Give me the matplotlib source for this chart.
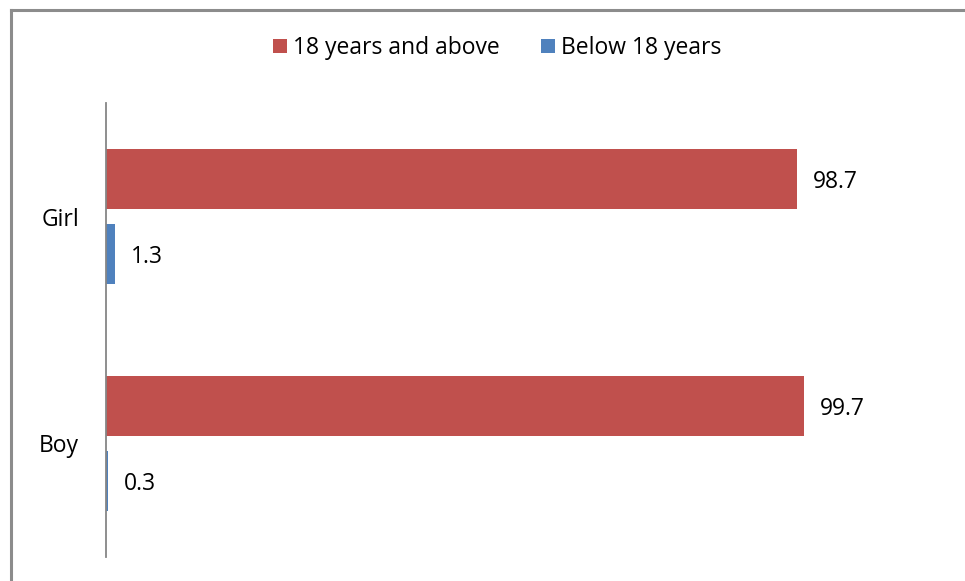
import matplotlib.pyplot as plt
from matplotlib.lines import Line2D

groups = ["Boy", "Girl"]
adult = [99.7, 98.7]
minor = [0.3, 1.3]
series_names = ["18 years and above", "Below 18 years"]

RED = "#C0504D"
BLUE = "#4F81BD"
FS = 16.5

plt.rcParams["font.family"] = ["Open Sans", "DejaVu Sans"]

fig = plt.figure(figsize=(9.65, 5.81), dpi=100)
W, H = 965, 581
ax = fig.add_axes([106 / W, 1 - 557 / H, 840 / W, 454 / H])

h = 0.265
off = 0.167
pos = list(range(len(groups)))
b1 = ax.barh([p + off for p in pos], adult, height=h, color=RED, label=series_names[0])
b2 = ax.barh([p - off for p in pos], minor, height=h, color=BLUE, label=series_names[1])

for bars, vals in ((b1, adult), (b2, minor)):
    for bar, v in zip(bars, vals):
        ax.text(v + 2.3, bar.get_y() + bar.get_height() / 2, f"{v}",
                va="center_baseline", ha="left", fontsize=FS)

ax.set_xlim(0, 120)
ax.set_ylim(-0.5, 1.5)
ax.set_yticks(pos)
ax.set_yticklabels(groups, fontsize=FS, va="center_baseline")
ax.tick_params(axis="y", length=0, pad=19.5)
ax.set_xticks([])
for s in ("top", "right", "bottom"):
    ax.spines[s].set_visible(False)
ax.spines["left"].set_color("#868686")
ax.spines["left"].set_linewidth(1.3)

fig.legend(handles=[b1, b2], loc="center", bbox_to_anchor=(497 / W, 1 - 48 / H),
           ncol=2, frameon=False, fontsize=FS, handlelength=0.6, handleheight=0.6,
           handletextpad=0.26, columnspacing=1.8)

# outer chart frame: only the left and top edges fall inside the image
frame_kw = dict(transform=fig.transFigure, color="#8C8C8C", linewidth=2.2)
fig.add_artist(Line2D([11 / W, 11 / W], [0, 1 - 10 / H], **frame_kw))
fig.add_artist(Line2D([11 / W, 1], [1 - 10 / H, 1 - 10 / H], **frame_kw))

fig.savefig("out.png", dpi=100)
